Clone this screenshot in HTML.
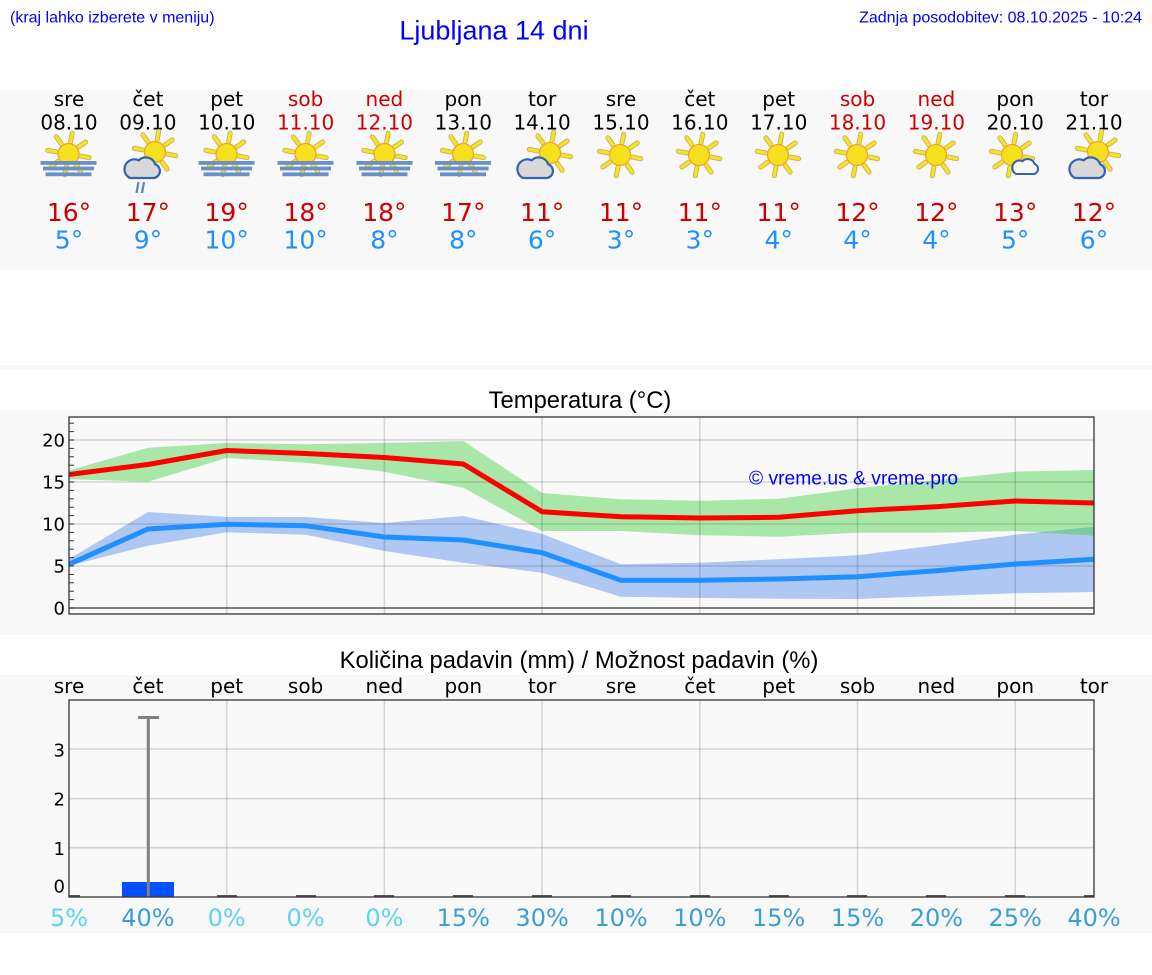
<!DOCTYPE html>
<html><head><meta charset="utf-8"><style>
html,body{margin:0;padding:0;background:#fff;width:1152px;height:975px;overflow:hidden}
svg{display:block}
.lib{font-family:"Liberation Sans",Arial,sans-serif}
.dv{font-family:"DejaVu Sans","Liberation Sans",sans-serif}
</style></head><body>
<svg width="1152" height="975" viewBox="0 0 1152 975" xmlns="http://www.w3.org/2000/svg">
<defs>
<g id="sun">
  <g stroke-linecap="round">
    <g stroke="#c8b060" stroke-width="5">
      <line x1="2.1" y1="-12.3" x2="3.7" y2="-20.7"/><line x1="10.2" y1="-7.2" x2="17.2" y2="-12.1"/>
      <line x1="12.3" y1="2.1" x2="20.7" y2="3.7"/><line x1="7.2" y1="10.2" x2="12.1" y2="17.2"/>
      <line x1="-2.1" y1="12.3" x2="-3.7" y2="20.7"/><line x1="-10.2" y1="7.2" x2="-17.2" y2="12.1"/>
      <line x1="-12.3" y1="-2.1" x2="-20.7" y2="-3.7"/><line x1="-7.2" y1="-10.2" x2="-12.1" y2="-17.2"/>
    </g>
    <g stroke="#f6e424" stroke-width="3.2">
      <line x1="2.1" y1="-12.3" x2="3.7" y2="-20.7"/><line x1="10.2" y1="-7.2" x2="17.2" y2="-12.1"/>
      <line x1="12.3" y1="2.1" x2="20.7" y2="3.7"/><line x1="7.2" y1="10.2" x2="12.1" y2="17.2"/>
      <line x1="-2.1" y1="12.3" x2="-3.7" y2="20.7"/><line x1="-10.2" y1="7.2" x2="-17.2" y2="12.1"/>
      <line x1="-12.3" y1="-2.1" x2="-20.7" y2="-3.7"/><line x1="-7.2" y1="-10.2" x2="-12.1" y2="-17.2"/>
    </g>
  </g>
  <circle r="10.5" fill="#f4e01c" stroke="#f0a030" stroke-width="1.2"/>
</g>
<g id="fogsun">
  <use href="#sun"/>
  <rect x="-28" y="7" width="56" height="3.8" fill="#6b8fc9"/>
  <rect x="-25.5" y="12.6" width="51" height="3.8" fill="#6b8fc9"/>
  <rect x="-23" y="18.4" width="46" height="3.8" fill="#6b8fc9"/>
</g>
<path id="cloud" d="M -11 10 L 11 10 A 6.5 6.5 0 0 0 12 -2.5 A 9 9 0 0 0 -3 -6 A 7.5 7.5 0 0 0 -11 10 Z"/>
</defs>

<rect x="0" y="90" width="1152" height="180" fill="#f8f8f8"/>
<rect x="0" y="365" width="1152" height="5" fill="#f8f8f8"/>
<rect x="0" y="410" width="1152" height="225" fill="#f8f8f8"/>
<rect x="0" y="675" width="1152" height="258" fill="#f8f8f8"/>

<text class="lib" x="10" y="22.5" font-size="16" fill="#0000ff">(kraj lahko izberete v meniju)</text>
<text class="lib" x="494" y="39.5" font-size="27" fill="#0000ff" text-anchor="middle">Ljubljana 14 dni</text>
<text class="lib" x="1142" y="22.5" font-size="16" fill="#0000ff" text-anchor="end">Zadnja posodobitev: 08.10.2025 - 10:24</text>

<g class="dv" font-size="20" text-anchor="middle">
  <text x="69" y="106">sre</text><text x="147.9" y="106">čet</text><text x="226.7" y="106">pet</text>
  <text x="305.6" y="106" fill="#cc0000">sob</text><text x="384.4" y="106" fill="#cc0000">ned</text>
  <text x="463.3" y="106">pon</text><text x="542.1" y="106">tor</text><text x="621" y="106">sre</text>
  <text x="699.8" y="106">čet</text><text x="778.7" y="106">pet</text>
  <text x="857.5" y="106" fill="#cc0000">sob</text><text x="936.4" y="106" fill="#cc0000">ned</text>
  <text x="1015.2" y="106">pon</text><text x="1094" y="106">tor</text>

  <text x="69" y="129.5">08.10</text><text x="147.9" y="129.5">09.10</text><text x="226.7" y="129.5">10.10</text>
  <text x="305.6" y="129.5" fill="#cc0000">11.10</text><text x="384.4" y="129.5" fill="#cc0000">12.10</text>
  <text x="463.3" y="129.5">13.10</text><text x="542.1" y="129.5">14.10</text><text x="621" y="129.5">15.10</text>
  <text x="699.8" y="129.5">16.10</text><text x="778.7" y="129.5">17.10</text>
  <text x="857.5" y="129.5" fill="#cc0000">18.10</text><text x="936.4" y="129.5" fill="#cc0000">19.10</text>
  <text x="1015.2" y="129.5">20.10</text><text x="1094" y="129.5">21.10</text>
</g>
<g class="dv" font-size="25" text-anchor="middle" fill="#cc0000">
  <text x="69" y="221">16°</text><text x="147.9" y="221">17°</text><text x="226.7" y="221">19°</text>
  <text x="305.6" y="221">18°</text><text x="384.4" y="221">18°</text><text x="463.3" y="221">17°</text>
  <text x="542.1" y="221">11°</text><text x="621" y="221">11°</text><text x="699.8" y="221">11°</text>
  <text x="778.7" y="221">11°</text><text x="857.5" y="221">12°</text><text x="936.4" y="221">12°</text>
  <text x="1015.2" y="221">13°</text><text x="1094" y="221">12°</text>
</g>
<g class="dv" font-size="25" text-anchor="middle" fill="#1e90ff">
  <text x="69" y="248.5">5°</text><text x="147.9" y="248.5">9°</text><text x="226.7" y="248.5">10°</text>
  <text x="305.6" y="248.5">10°</text><text x="384.4" y="248.5">8°</text><text x="463.3" y="248.5">8°</text>
  <text x="542.1" y="248.5">6°</text><text x="621" y="248.5">3°</text><text x="699.8" y="248.5">3°</text>
  <text x="778.7" y="248.5">4°</text><text x="857.5" y="248.5">4°</text><text x="936.4" y="248.5">4°</text>
  <text x="1015.2" y="248.5">5°</text><text x="1094" y="248.5">6°</text>
</g>

<use href="#fogsun" transform="translate(68.5,154)"/>
<use href="#fogsun" transform="translate(226.5,154)"/>
<use href="#fogsun" transform="translate(305.5,154)"/>
<use href="#fogsun" transform="translate(384.5,154)"/>
<use href="#fogsun" transform="translate(463,154)"/>
<use href="#sun" transform="translate(155,152)"/>
<use href="#cloud" transform="translate(142,167) scale(1.1)" fill="#d8d8d8" stroke="#2f64b4" stroke-width="2"/>
<g stroke="#5a82c0" stroke-width="2.2"><line x1="138.5" y1="182" x2="136.5" y2="193"/><line x1="144" y1="182" x2="142" y2="193"/></g>
<use href="#sun" transform="translate(550,153)"/>
<use href="#cloud" transform="translate(535,167) scale(1.1)" fill="#d8d8d8" stroke="#2f64b4" stroke-width="2"/>
<use href="#sun" transform="translate(620,155)"/>
<use href="#sun" transform="translate(699,155)"/>
<use href="#sun" transform="translate(778,155)"/>
<use href="#sun" transform="translate(857,155)"/>
<use href="#sun" transform="translate(936,155)"/>
<use href="#sun" transform="translate(1012,155)"/>
<use href="#cloud" transform="translate(1025,166) scale(0.8)" fill="#f8f8f8" stroke="#2f64b4" stroke-width="2.6"/>
<use href="#sun" transform="translate(1098,152)"/>
<use href="#cloud" transform="translate(1087,167) scale(1.1)" fill="#d8d8d8" stroke="#2f64b4" stroke-width="2"/>

<text class="lib" x="580" y="408" font-size="23.8" text-anchor="middle" fill="#000">Temperatura (°C)</text>
<rect x="69" y="417" width="1025" height="197" fill="#f9f9f9"/>
<clipPath id="cp"><rect x="69" y="417" width="1025" height="197"/></clipPath>
<g clip-path="url(#cp)">
  <polygon fill="rgb(100,149,237)" fill-opacity="0.5" points="69,559 147.9,512 226.7,517 305.6,517 384.4,523 463.3,516 542.1,534 621,564.3 699.8,562.7 778.7,559.3 857.5,555.3 936.4,545.3 1015.2,534.7 1094,526.7 1094,592 1015.2,593.3 936.4,596 857.5,599 778.7,598.7 699.8,598 621,596.7 542.1,572.7 463.3,562.7 384.4,551 305.6,534.7 226.7,532.3 147.9,545.7 69,565.7"/>
  <polygon fill="rgb(50,205,50)" fill-opacity="0.4" points="69,470.5 147.9,447.7 226.7,443 305.6,444.3 384.4,443 463.3,441 542.1,493 621,499.3 699.8,500.7 778.7,498.7 857.5,488.3 936.4,480 1015.2,471.7 1094,470 1094,535.7 1015.2,531 936.4,532.7 857.5,532.7 778.7,536.7 699.8,535.3 621,531 542.1,531 463.3,487.7 384.4,471.7 305.6,462.7 226.7,458 147.9,481.7 69,479.3"/>
  <g stroke="#000" stroke-opacity="0.14" stroke-width="1.6">
    <line x1="69" y1="440" x2="1094" y2="440"/><line x1="69" y1="482" x2="1094" y2="482"/>
    <line x1="69" y1="524" x2="1094" y2="524"/><line x1="69" y1="566" x2="1094" y2="566"/>
    <line x1="226.7" y1="417" x2="226.7" y2="614"/><line x1="384.4" y1="417" x2="384.4" y2="614"/>
    <line x1="542.1" y1="417" x2="542.1" y2="614"/><line x1="699.8" y1="417" x2="699.8" y2="614"/>
    <line x1="857.5" y1="417" x2="857.5" y2="614"/><line x1="1015.2" y1="417" x2="1015.2" y2="614"/>
  </g>
  <line x1="69" y1="608" x2="1094" y2="608" stroke="#555" stroke-width="1.4"/>
  <polyline fill="none" stroke="#ff0000" stroke-width="5" stroke-linejoin="round" points="69,474.5 147.9,464.5 226.7,450.5 305.6,453.5 384.4,457.5 463.3,464 542.1,511.7 621,516.7 699.8,518 778.7,517.3 857.5,510.7 936.4,506.7 1015.2,501 1094,503"/>
  <polyline fill="none" stroke="#1e90ff" stroke-width="5" stroke-linejoin="round" points="69,564.3 147.9,529 226.7,524.3 305.6,525.7 384.4,537 463.3,540 542.1,552.7 621,580.3 699.8,580.3 778.7,579 857.5,576.7 936.4,570.7 1015.2,564 1094,559.3"/>
  <text class="lib" x="853.5" y="484.5" font-size="19.3" fill="#0000ff" text-anchor="middle">© vreme.us &amp; vreme.pro</text>
</g>
<g stroke="#333" stroke-width="1">
  <line x1="69" y1="608" x2="74" y2="608"/><line x1="69" y1="599.6" x2="74" y2="599.6"/><line x1="69" y1="591.2" x2="74" y2="591.2"/>
  <line x1="69" y1="582.8" x2="74" y2="582.8"/><line x1="69" y1="574.4" x2="74" y2="574.4"/><line x1="69" y1="566" x2="74" y2="566"/>
  <line x1="69" y1="557.6" x2="74" y2="557.6"/><line x1="69" y1="549.2" x2="74" y2="549.2"/><line x1="69" y1="540.8" x2="74" y2="540.8"/>
  <line x1="69" y1="532.4" x2="74" y2="532.4"/><line x1="69" y1="524" x2="74" y2="524"/><line x1="69" y1="515.6" x2="74" y2="515.6"/>
  <line x1="69" y1="507.2" x2="74" y2="507.2"/><line x1="69" y1="498.8" x2="74" y2="498.8"/><line x1="69" y1="490.4" x2="74" y2="490.4"/>
  <line x1="69" y1="482" x2="74" y2="482"/><line x1="69" y1="473.6" x2="74" y2="473.6"/><line x1="69" y1="465.2" x2="74" y2="465.2"/>
  <line x1="69" y1="456.8" x2="74" y2="456.8"/><line x1="69" y1="448.4" x2="74" y2="448.4"/><line x1="69" y1="440" x2="74" y2="440"/>
  <line x1="69" y1="431.6" x2="74" y2="431.6"/><line x1="69" y1="423.2" x2="74" y2="423.2"/>
</g>
<rect x="69" y="417" width="1025" height="197" fill="none" stroke="#333" stroke-width="1.3"/>
<g class="dv" font-size="18" text-anchor="end" fill="#000">
  <text x="65" y="446.5">20</text><text x="65" y="488.5">15</text><text x="65" y="530.5">10</text>
  <text x="65" y="572.5">5</text><text x="65" y="614.5">0</text>
</g>

<text class="lib" x="579" y="668" font-size="23.8" text-anchor="middle" fill="#000">Količina padavin (mm) / Možnost padavin (%)</text>
<g class="dv" font-size="20" text-anchor="middle" fill="#000">
  <text x="69" y="693">sre</text><text x="147.9" y="693">čet</text><text x="226.7" y="693">pet</text>
  <text x="305.6" y="693">sob</text><text x="384.4" y="693">ned</text><text x="463.3" y="693">pon</text>
  <text x="542.1" y="693">tor</text><text x="621" y="693">sre</text><text x="699.8" y="693">čet</text>
  <text x="778.7" y="693">pet</text><text x="857.5" y="693">sob</text><text x="936.4" y="693">ned</text>
  <text x="1015.2" y="693">pon</text><text x="1094" y="693">tor</text>
</g>
<rect x="69" y="700" width="1025" height="197" fill="#f9f9f9"/>
<g stroke="#000" stroke-opacity="0.14" stroke-width="1.6">
  <line x1="69" y1="749" x2="1094" y2="749"/><line x1="69" y1="798.7" x2="1094" y2="798.7"/><line x1="69" y1="847.7" x2="1094" y2="847.7"/>
  <line x1="226.7" y1="700" x2="226.7" y2="897"/><line x1="384.4" y1="700" x2="384.4" y2="897"/>
  <line x1="542.1" y1="700" x2="542.1" y2="897"/><line x1="699.8" y1="700" x2="699.8" y2="897"/>
  <line x1="857.5" y1="700" x2="857.5" y2="897"/><line x1="1015.2" y1="700" x2="1015.2" y2="897"/>
</g>
<rect x="122" y="882" width="52" height="15" fill="#0050ff"/>
<g stroke="#808080" stroke-width="3">
  <line x1="148.3" y1="717.5" x2="148.3" y2="897"/><line x1="138" y1="717.5" x2="159" y2="717.5"/>
</g>
<g stroke="#555" stroke-width="2">
  <line x1="69" y1="896" x2="80" y2="896"/><line x1="217" y1="896" x2="237" y2="896"/><line x1="296" y1="896" x2="316" y2="896"/>
  <line x1="374" y1="896" x2="394" y2="896"/><line x1="453" y1="896" x2="473" y2="896"/><line x1="532" y1="896" x2="552" y2="896"/>
  <line x1="611" y1="896" x2="631" y2="896"/><line x1="690" y1="896" x2="710" y2="896"/><line x1="769" y1="896" x2="789" y2="896"/>
  <line x1="847" y1="896" x2="867" y2="896"/><line x1="926" y1="896" x2="946" y2="896"/><line x1="1005" y1="896" x2="1025" y2="896"/>
  <line x1="1084" y1="896" x2="1094" y2="896"/>
</g>
<rect x="69" y="700" width="1025" height="197" fill="none" stroke="#333" stroke-width="1.3"/>
<g class="dv" font-size="18" text-anchor="end" fill="#000">
  <text x="65" y="756.5">3</text><text x="65" y="805.5">2</text><text x="65" y="855">1</text><text x="65" y="892.5">0</text>
</g>
<g class="dv" font-size="24" text-anchor="middle">
  <text x="69" y="926" fill="#5ed4ea">5%</text><text x="147.9" y="926" fill="#3a9fd6">40%</text>
  <text x="226.7" y="926" fill="#5ed4ea">0%</text><text x="305.6" y="926" fill="#5ed4ea">0%</text>
  <text x="384.4" y="926" fill="#5ed4ea">0%</text><text x="463.3" y="926" fill="#3a9fd6">15%</text>
  <text x="542.1" y="926" fill="#3a9fd6">30%</text><text x="621" y="926" fill="#3a9fd6">10%</text>
  <text x="699.8" y="926" fill="#3a9fd6">10%</text><text x="778.7" y="926" fill="#3a9fd6">15%</text>
  <text x="857.5" y="926" fill="#3a9fd6">15%</text><text x="936.4" y="926" fill="#3a9fd6">20%</text>
  <text x="1015.2" y="926" fill="#3a9fd6">25%</text><text x="1094" y="926" fill="#3a9fd6">40%</text>
</g>
</svg>
</body></html>
